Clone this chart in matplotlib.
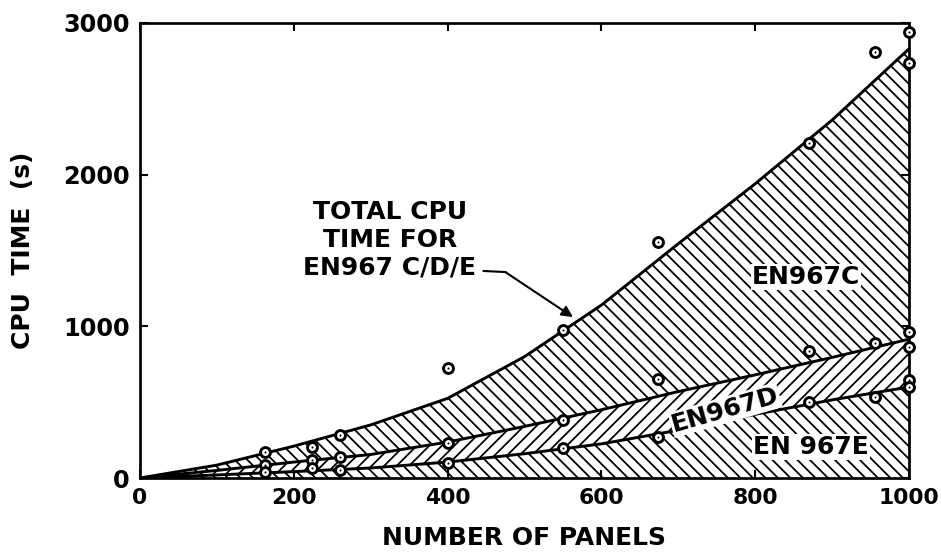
import numpy as np
import matplotlib.pyplot as plt

plt.rcParams['font.family'] = 'DejaVu Sans'
plt.rcParams['font.weight'] = 'bold'
plt.rcParams['hatch.linewidth'] = 1.7

# smooth curves drawn through the runs
panels_curve = [0, 100, 200, 300, 400, 500, 600, 700, 800, 900, 1000]
total_curve = [0, 85, 210, 350, 525, 800, 1140, 1545, 1940, 2360, 2830]
de_curve = [0, 50, 105, 155, 237, 340, 450, 570, 680, 795, 915]
e_curve = [0, 20, 42, 66, 105, 160, 225, 315, 420, 515, 600]

# measured runs
panels_pts = [163, 224, 260, 400, 550, 673, 870, 956, 1000, 1000]
total_pts = [171, 204, 283, 725, 976, 1555, 2208, 2810, 2940, 2735]
de_pts = [86, 120, 138, 231, 382, 653, 837, 890, 962, 864]
e_pts = [40, 66, 53, 99, 198, 270, 501, 534, 646, 600]

x_ticks = [0, 200, 400, 600, 800, 1000]
y_ticks = [0, 1000, 2000, 3000]

fig = plt.figure(figsize=(941 / 75, 556 / 75), dpi=75)
ax = fig.add_axes([140 / 941, 1 - 478 / 556, 769 / 941, 455 / 556])

# hatched bands
ax.fill_between(panels_curve, de_curve, total_curve, facecolor='white',
                edgecolor='black', hatch='\\\\', linewidth=0)
ax.fill_between(panels_curve, e_curve, de_curve, facecolor='white',
                edgecolor='black', hatch='//', linewidth=0)
ax.fill_between(panels_curve, 0, e_curve, facecolor='white',
                edgecolor='black', hatch='\\\\', linewidth=0)

for curve in [total_curve, de_curve, e_curve]:
    ax.plot(panels_curve, curve, 'k-', lw=2.8, solid_capstyle='round')

for pts in [total_pts, de_pts, e_pts]:
    ax.plot(panels_pts, pts, 'o', ms=9.5, mfc='white', mec='black', mew=2.8,
            clip_on=False, zorder=5)
    ax.plot(panels_pts, pts, '.', ms=2, color='black', clip_on=False, zorder=6)

# labels inside the bands
box = dict(facecolor='white', edgecolor='none', pad=1)
ax.text(866, 1325, 'EN967C', fontsize=24, ha='center', va='center', bbox=box)
ax.text(761, 448, 'EN967D', fontsize=24, ha='center', va='center',
        rotation=16, bbox=box)
ax.text(873, 204, 'EN 967E', fontsize=24, ha='center', va='center', bbox=box)

ax.text(325, 1570, 'TOTAL CPU\nTIME FOR\nEN967 C/D/E', fontsize=24,
        ha='center', va='center', linespacing=1.2)
ax.plot([447, 475], [1365, 1358], 'k-', lw=2)
ax.annotate('', xy=(563, 1061), xytext=(475, 1358),
            arrowprops=dict(arrowstyle='-|>', color='black', lw=2,
                            mutation_scale=22, shrinkA=0, shrinkB=0))

ax.set_xlim(0, 1000)
ax.set_ylim(0, 3000)
ax.set_xticks(x_ticks)
ax.set_yticks(y_ticks)
ax.tick_params(direction='in', length=8, width=2, top=True, right=True, pad=10)
ax.tick_params(axis='x', labelsize=21)
ax.tick_params(axis='y', labelsize=23)
for s in ax.spines.values():
    s.set_linewidth(2.6)

ax.set_xlabel('NUMBER OF PANELS', fontsize=24, fontweight='bold')
ax.set_ylabel('CPU  TIME  (s)', fontsize=24, fontweight='bold')
ax.xaxis.set_label_coords(0.5, -0.105)
ax.yaxis.set_label_coords(-0.137, 0.5)

fig.savefig('out.png', dpi=75)
